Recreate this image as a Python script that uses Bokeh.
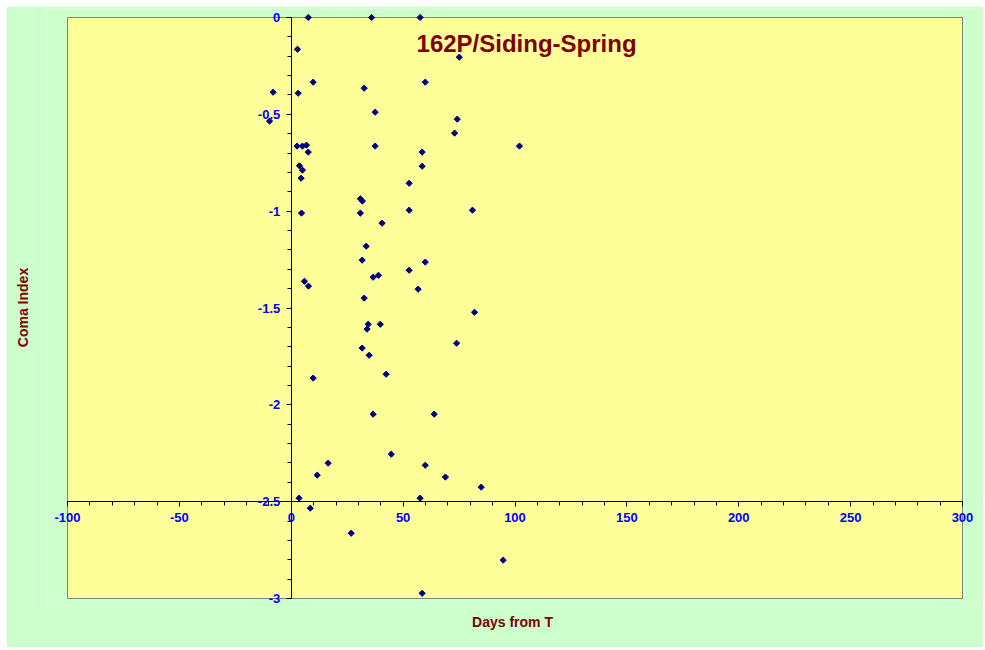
import math
from bokeh.plotting import figure
from bokeh.models import (Range1d, LinearAxis, FixedTicker, Label,
                          ColumnDataSource, BoxAnnotation)
from bokeh.embed import file_html
from bokeh.resources import INLINE

# ---- data ----
days = [7.6, 35.9, 57.6, 2.8, 75.1, 9.8, 59.9, -8.1, 3.1, 32.6,
        37.5, -9.7, 74.2, 73.0, 2.6, 5.0, 6.8, 7.6, 37.5, 58.5,
        102.0, 3.7, 5.0, 58.5, 4.4, 52.7, 30.9, 31.8, 4.6, 30.9,
        52.7, 81.0, 40.6, 33.5, 31.7, 59.9, 52.7, 36.6, 39.0, 5.9,
        7.7, 56.7, 32.6, 81.9, 34.4, 33.9, 39.8, 73.9, 31.7, 34.8,
        42.4, 9.8, 36.6, 63.9, 44.7, 16.5, 59.9, 11.6, 68.9, 84.9,
        3.5, 57.6, 8.5, 26.8, 94.7, 58.5]
coma = [0.0, 0.0, 0.0, -0.164, -0.205, -0.334, -0.334, -0.386, -0.391, -0.365,
        -0.489, -0.535, -0.525, -0.597, -0.664, -0.664, -0.659, -0.695, -0.664, -0.695,
        -0.664, -0.766, -0.788, -0.768, -0.830, -0.856, -0.936, -0.948, -1.010, -1.010,
        -0.995, -0.995, -1.062, -1.181, -1.253, -1.263, -1.305, -1.341, -1.331, -1.362,
        -1.387, -1.403, -1.449, -1.522, -1.584, -1.609, -1.584, -1.682, -1.707, -1.744,
        -1.842, -1.862, -2.048, -2.048, -2.255, -2.301, -2.312, -2.363, -2.373, -2.425,
        -2.482, -2.482, -2.534, -2.663, -2.802, -2.973]

x_ticks = [-100, -50, 0, 50, 100, 150, 200, 250, 300]
x_tick_labels = ["-100", "-50", "0", "50", "100", "150", "200", "250", "300"]
y_ticks = [0, -0.5, -1, -1.5, -2, -2.5, -3]
y_tick_labels = ["0", "-0.5", "-1", "-1.5", "-2", "-2.5", "-3"]

title_text = "162P/Siding-Spring"
x_title = "Days from T"
y_title = "Coma Index"

FONT = "Liberation Sans"
BLUE = "#0000FF"
DARKRED = "#800000"
GREEN = "#CCFFCC"
YELLOW = "#FFFF99"

# pixel geometry (figure coords): data box x -100..300 -> 61..956, y 0..-3 -> 11..592
PX_PER_X = 895 / 400.0
PX_PER_Y = 581 / 3.0
FR_L, FR_R, FR_T, FR_B = 40, 972, 2, 600
W, H = 977, 641
x0 = -100 - (61 - FR_L) / PX_PER_X
x1 = 300 + (FR_R - 956) / PX_PER_X
y1 = 0 + (11 - FR_T) / PX_PER_Y
y0 = -3 - (FR_B - 592) / PX_PER_Y

p = figure(width=W, height=H, output_backend="svg", toolbar_location=None,
           x_range=Range1d(x0, x1), y_range=Range1d(y0, y1),
           background_fill_color=GREEN, background_fill_alpha=1.0,
           border_fill_color=GREEN, border_fill_alpha=1.0,
           min_border_left=FR_L, min_border_right=W - FR_R,
           min_border_top=FR_T, min_border_bottom=H - FR_B,
           margin=(6, 0, 0, 6))
p.grid.visible = False
p.outline_line_color = None

p.add_layout(BoxAnnotation(left=-100, right=300, bottom=-3, top=0,
                           fill_color=YELLOW, fill_alpha=1.0,
                           line_color="#808080", line_width=1, line_alpha=1.0,
                           level="underlay"))

src = ColumnDataSource(dict(x=days, y=coma))
p.scatter("x", "y", source=src, marker="square", angle=math.pi / 4, size=4.4,
          fill_color="#000080", line_color="#000080", line_width=1)

# crossing axes
xa = p.xaxis[0]
xa.ticker = FixedTicker(ticks=x_ticks, minor_ticks=list(range(-100, 301, 10)))
xa.major_label_overrides = {t: l for t, l in zip(x_ticks, x_tick_labels)}
xa.fixed_location = -2.5
xa.bounds = (-100, 300)
ya = p.yaxis[0]
ya.ticker = FixedTicker(ticks=y_ticks,
                        minor_ticks=[round(-0.1 * i, 1) for i in range(31)])
ya.major_label_overrides = {t: l for t, l in zip(y_ticks, y_tick_labels)}
ya.fixed_location = 0
ya.bounds = (-3, 0)

for ax in (xa, ya):
    ax.axis_line_color = "black"
    ax.major_tick_line_color = "black"
    ax.minor_tick_line_color = "black"
    ax.major_tick_out = 5
    ax.major_tick_in = 0
    ax.minor_tick_out = 4
    ax.minor_tick_in = 0
    ax.major_label_text_color = BLUE
    ax.major_label_text_font = FONT
    ax.major_label_text_font_style = "bold"
    ax.major_label_text_font_size = "13px"
xa.major_label_standoff = 6
ya.major_label_standoff = 6

# axes carrying only titles
bx = LinearAxis(ticker=FixedTicker(ticks=[]), axis_label=x_title,
                axis_line_color=None, major_tick_line_color=None,
                minor_tick_line_color=None, major_tick_out=0, minor_tick_out=0,
                major_label_standoff=0, axis_label_standoff=7,
                axis_label_text_color=DARKRED, axis_label_text_font=FONT,
                axis_label_text_font_style="bold", axis_label_text_font_size="14px")
p.add_layout(bx, "below")
ly = LinearAxis(ticker=FixedTicker(ticks=[]), axis_label=y_title,
                axis_line_color=None, major_tick_line_color=None,
                minor_tick_line_color=None, major_tick_out=0, minor_tick_out=0,
                major_label_standoff=0, axis_label_standoff=16,
                axis_label_text_color=DARKRED, axis_label_text_font=FONT,
                axis_label_text_font_style="bold", axis_label_text_font_size="14px")
p.add_layout(ly, "left")

p.add_layout(Label(x=56, y=-0.132, text=title_text, text_color=DARKRED,
                   text_font=FONT, text_font_style="bold",
                   text_font_size="24px", text_baseline="alphabetic"))

open("out.html", "w").write(file_html(p, INLINE))
